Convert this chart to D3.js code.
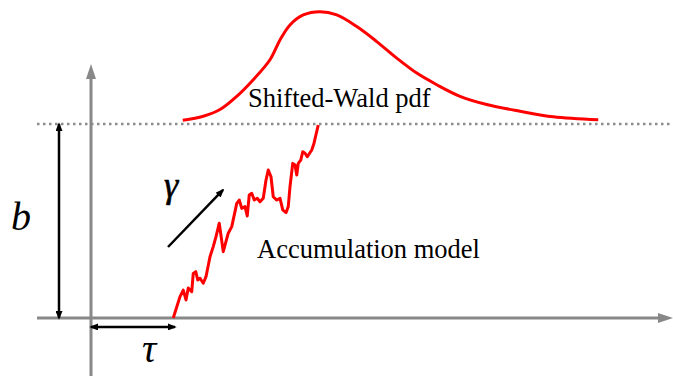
<!DOCTYPE html>
<html lang="en">
<head>
<meta charset="utf-8">
<title>Shifted-Wald accumulation model</title>
<script src="https://cdn.jsdelivr.net/npm/d3@7"></script>
<style type="text/css">
  body { margin: 0; background: #fff; }
  .axis-line { stroke: #888; stroke-width: 3; fill: none; }
  .threshold { stroke: #8c8c8c; stroke-width: 2.5; stroke-dasharray: 2.5,3.5; fill: none; }
  .walk, .pdf { stroke: #ff0000; stroke-width: 3; fill: none; stroke-linejoin: round; }
  .arrow { stroke: #000; stroke-width: 2.5; fill: none; }
  .label { font-family: "Liberation Serif", "Times New Roman", serif; font-size: 26.5px; fill: #000; }
  .sym { font-family: "Liberation Serif", "Times New Roman", serif; font-style: italic; fill: #000; }
</style>
</head>
<body>
<script>

  var w = 673;
  var h = 376;

  // accumulated evidence over time (threshold b = 1)
  var walkTime = [0.329, 0.356, 0.369, 0.380, 0.389, 0.403, 0.409, 0.419, 0.427, 0.436,
                  0.449, 0.460, 0.476, 0.489, 0.500, 0.513, 0.529, 0.549, 0.563, 0.583,
                  0.593, 0.603, 0.616, 0.625, 0.633, 0.643, 0.653, 0.665, 0.676, 0.689,
                  0.700, 0.709, 0.720, 0.729, 0.743, 0.756, 0.767, 0.780, 0.789, 0.796,
                  0.807, 0.816, 0.823, 0.829, 0.839, 0.847, 0.856, 0.865, 0.883, 0.892, 0.909];
  var walkEvidence = [0.000, 0.110, 0.144, 0.093, 0.155, 0.136, 0.230, 0.239, 0.196, 0.205,
                      0.179, 0.213, 0.316, 0.368, 0.419, 0.488, 0.342, 0.437, 0.471, 0.591,
                      0.608, 0.565, 0.574, 0.526, 0.634, 0.643, 0.608, 0.617, 0.599, 0.617,
                      0.711, 0.763, 0.728, 0.625, 0.608, 0.617, 0.557, 0.543, 0.574, 0.677,
                      0.797, 0.789, 0.737, 0.797, 0.814, 0.857, 0.849, 0.831, 0.866, 0.901, 0.995];

  // shifted-Wald density
  var pdfTime = [0.367, 0.449, 0.516, 0.583, 0.649, 0.716, 0.756, 0.796, 0.849, 0.916,
                 0.983, 1.063, 1.143, 1.223, 1.303, 1.383, 1.476, 1.583, 1.716, 1.849, 2.029];
  var pdfDensity = [0.012, 0.048, 0.109, 0.230, 0.382, 0.564, 0.745, 0.882, 0.973, 1.003,
                    0.973, 0.867, 0.730, 0.579, 0.442, 0.336, 0.230, 0.155, 0.094, 0.043, 0.015];

  var tau = 0.33;       // non-decision time
  var threshold = 1;    // b
  var gammaFrom = [0.308, 0.366];
  var gammaTo = [0.528, 0.660];

  var labels = { pdf: "Shifted-Wald pdf", model: "Accumulation model" };

  // scales
  var xScale = d3.scaleLinear().domain([0, 1]).range([91, 341]);
  var yScale = d3.scaleLinear().domain([0, 1]).range([318, 124]);
  var dScale = d3.scaleLinear().domain([0, 1]).range([121.5, 12]);

  var svg = d3.select("body")
    .append("svg")
    .attr("width", w)
    .attr("height", h);

  var defs = svg.append("defs");

  defs.append("marker")
    .attr("id", "head-gray")
    .attr("viewBox", "0 0 15 10")
    .attr("markerUnits", "userSpaceOnUse")
    .attr("markerWidth", 15)
    .attr("markerHeight", 10)
    .attr("refX", 9)
    .attr("refY", 5)
    .attr("orient", "auto")
    .append("path")
    .attr("d", "M0,0 L15,5 L0,10 Z")
    .attr("fill", "#888");

  defs.append("marker")
    .attr("id", "head-black")
    .attr("viewBox", "0 0 10 8")
    .attr("markerUnits", "userSpaceOnUse")
    .attr("markerWidth", 9)
    .attr("markerHeight", 7)
    .attr("refX", 8)
    .attr("refY", 4)
    .attr("orient", "auto-start-reverse")
    .append("path")
    .attr("d", "M0,0 L10,4 L0,8 Z")
    .attr("fill", "#000");

  // threshold line
  svg.append("line")
    .attr("class", "threshold")
    .attr("x1", xScale(-0.216)).attr("x2", xScale(2.33))
    .attr("y1", yScale(threshold)).attr("y2", yScale(threshold));

  // axes
  svg.append("line")
    .attr("class", "axis-line")
    .attr("x1", xScale(-0.216)).attr("x2", xScale(2.304))
    .attr("y1", yScale(0)).attr("y2", yScale(0))
    .attr("marker-end", "url(#head-gray)");

  svg.append("line")
    .attr("class", "axis-line")
    .attr("x1", xScale(0)).attr("x2", xScale(0))
    .attr("y1", yScale(-0.31)).attr("y2", yScale(1.278))
    .attr("marker-end", "url(#head-gray)");

  // pdf curve
  var pdfLine = d3.line()
    .x(function(d, i) { return xScale(pdfTime[i]); })
    .y(function(d) { return dScale(d); })
    .curve(d3.curveCatmullRom);

  svg.append("path")
    .datum(pdfDensity)
    .attr("class", "pdf")
    .attr("d", pdfLine);

  // random walk
  var walkLine = d3.line()
    .x(function(d, i) { return xScale(walkTime[i]); })
    .y(function(d) { return yScale(d); });

  svg.append("path")
    .datum(walkEvidence)
    .attr("class", "walk")
    .attr("d", walkLine);

  // b arrow
  svg.append("line")
    .attr("class", "arrow")
    .attr("x1", xScale(-0.128)).attr("x2", xScale(-0.128))
    .attr("y1", yScale(0)).attr("y2", yScale(threshold))
    .attr("marker-start", "url(#head-black)")
    .attr("marker-end", "url(#head-black)");

  // tau arrow
  svg.append("line")
    .attr("class", "arrow")
    .attr("x1", xScale(0)).attr("x2", xScale(tau + 0.006))
    .attr("y1", yScale(-0.046)).attr("y2", yScale(-0.046))
    .attr("marker-start", "url(#head-black)")
    .attr("marker-end", "url(#head-black)");

  // gamma (drift) arrow
  svg.append("line")
    .attr("class", "arrow")
    .attr("x1", xScale(gammaFrom[0])).attr("y1", yScale(gammaFrom[1]))
    .attr("x2", xScale(gammaTo[0])).attr("y2", yScale(gammaTo[1]))
    .attr("marker-end", "url(#head-black)");

  // text
  svg.append("text").attr("class", "label")
    .attr("x", 248).attr("y", 107)
    .text(labels.pdf);

  svg.append("text").attr("class", "label")
    .attr("x", 257).attr("y", 258)
    .text(labels.model);

  svg.append("text").attr("class", "sym")
    .attr("x", 11).attr("y", 230)
    .style("font-size", "40px")
    .text("b");

  svg.append("text").attr("class", "sym")
    .attr("x", 164).attr("y", 197)
    .style("font-size", "36px")
    .style("stroke", "#000").style("stroke-width", 0.6)
    .text("γ");

  svg.append("text").attr("class", "sym")
    .attr("x", 142).attr("y", 362)
    .style("font-size", "40px")
    .text("τ");

</script>
</body>
</html>
